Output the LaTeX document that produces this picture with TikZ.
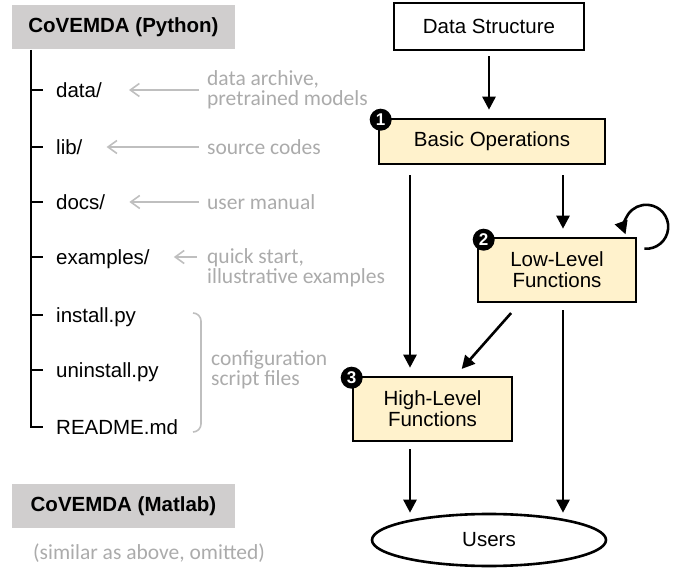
\documentclass[tikz,border=0pt]{standalone}
\usepackage{fontspec}
\setmainfont{Liberation Sans}
\newfontfamily\notefont{Carlito}
\usepackage{tikz}
\usetikzlibrary{calc}
\usetikzlibrary{arrows.meta}
\usetikzlibrary{shapes.geometric}

\definecolor{hdrgray}{HTML}{D0CECE}
\definecolor{notegray}{HTML}{ABABAB}
\definecolor{linegray}{HTML}{BFBFBF}
\definecolor{boxyellow}{HTML}{FFF2CC}

\tikzset{
  hdr/.style={fill=hdrgray, minimum width=223pt, minimum height=44pt,
    font=\fontsize{20.5}{24}\selectfont\bfseries},
  file/.style={anchor=west, inner sep=0pt, text height=14.7pt, text depth=0pt,
    font=\fontsize{20.5}{24}\selectfont},
  note/.style={anchor=west, inner sep=0pt, align=left, text=notegray,
    font=\notefont\fontsize{21.5}{20}\selectfont},
  noteline/.style={draw=linegray, line width=1.6pt},
  notearrow/.style={noteline, -{Straight Barb[length=9pt,width=13pt]}},
  blk/.style={draw, rectangle, line width=2.6pt, inner sep=0pt, align=center,
    font=\fontsize{20.5}{21}\selectfont},
  fn/.style={blk, fill=boxyellow},
  flow/.style={line width=2.6pt, -{Triangle[width=13pt,length=13pt]},
    shorten <=7pt, shorten >=8pt},
  badge/.style={circle, fill=black, text=white, inner sep=0pt, minimum size=22pt,
    font=\fontsize{17}{17}\selectfont\bfseries},
}

\begin{document}
\begin{tikzpicture}[x=1pt,y=1pt]
  \useasboundingbox (0,0) rectangle (682,570);

  % package tree
  \node[hdr] (P0) at (123.5,543) {CoVEMDA (Python)};
  \node[file] (T1) at (56,480) {data/};
  \node[file] (T2) at (56,423) {lib/};
  \node[file] (T3) at (56,368) {docs/};
  \node[file] (T4) at (56,313) {examples/};
  \node[file] (T5) at (56,255) {install.py};
  \node[file] (T6) at (56,200) {uninstall.py};
  \node[file] (T7) at (56,143) {README.md};
  \coordinate (R0) at (31,520);
  \draw[line width=2.8pt] (R0) -- (R0 |- T7) -- ([xshift=-13pt]T7.west);
  \foreach \i in {1,...,6}
    \draw[line width=2.8pt] (R0 |- T\i) -- ([xshift=-13pt]T\i.west);

  \node[note] (C1) at (207,480) {data archive,\\pretrained models};
  \node[note] (C2) at (207,423) {source codes};
  \node[note] (C3) at (207,368) {user manual};
  \node[note] (C4) at (207,302) {quick start,\\illustrative examples};
  \node[note] (C5) at (211,200) {configuration\\script files};
  \draw[notearrow, shorten <=8pt, shorten >=27pt] (C1.west |- T1) -- (T1);
  \draw[notearrow, shorten <=8pt, shorten >=24pt] (C2.west |- T2) -- (T2);
  \draw[notearrow, shorten <=8pt, shorten >=24pt] (C3.west |- T3) -- (T3);
  \draw[notearrow, shorten <=10pt, shorten >=24pt] (C4.west |- T4) -- (T4);
  \draw[noteline] (193,257) to[out=0,in=90] (201,249) -- (201,146)
    to[out=-90,in=0] (193,138);

  \node[hdr] (P1) at (123.5,64) {CoVEMDA (Matlab)};
  \node[note] (C6) at (33,17) {(similar as above, omitted)};

  % function layers
  \node[blk, minimum width=190pt, minimum height=47pt] (D0) at (489,543.5) {Data Structure};
  \node[fn, minimum width=226pt, minimum height=45pt] (B1) at (492,428.5) {Basic Operations};
  \node[fn, minimum width=158pt, minimum height=64pt] (B2) at (557,300) {Low-Level\\Functions};
  \node[fn, minimum width=159pt, minimum height=64pt] (B3) at (432.5,161) {High-Level\\Functions};
  \node[ellipse, draw, line width=2.6pt, inner sep=0pt, minimum width=234pt,
    minimum height=52pt, font=\fontsize{20.5}{24}\selectfont] (U0) at (489,30) {Users};
  \node[badge] (K1) at ([shift={(3,-2)}]B1.north west) {1};
  \node[badge] (K2) at ([shift={(7,-3)}]B2.north west) {2};
  \node[badge] (K3) at ([shift={(0,-2)}]B3.north west) {3};

  \coordinate (X1) at (410,0);
  \coordinate (X2) at (563,0);
  \draw[flow, shorten <=5pt] (D0.south) -- (D0.south |- B1.north);
  \draw[flow, shorten <=10pt] (B1.south -| X1) -- (B3.north -| X1);
  \draw[flow, shorten <=10pt] (B1.south -| X2) -- (B2.north -| X2);
  \draw[flow, shorten <=13pt, shorten >=9pt] ([xshift=43pt]B2.south west)
    -- ([xshift=104pt]B3.north west);
  \draw[flow, shorten >=0pt] (B3.south -| X1) -- (U0.north -| X1);
  \draw[flow, shorten >=0pt] (B2.south -| X2) -- (U0.north -| X2);
  \draw[line width=2.6pt, -{Triangle[width=13pt,length=13pt]}]
    ([shift={(7,-12)}]B2.north east) arc[start angle=-95, end angle=200, radius=22];
\end{tikzpicture}
\end{document}
